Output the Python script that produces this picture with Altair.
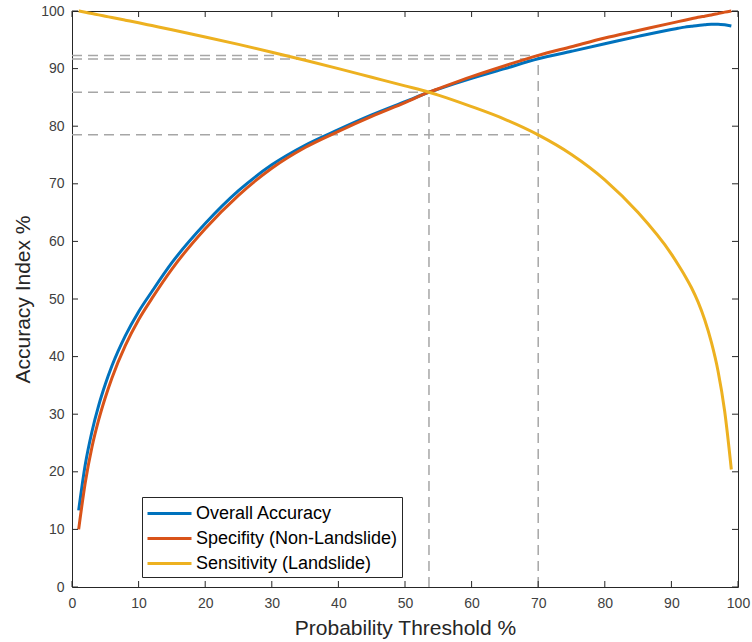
import altair as alt
import pandas as pd

# Probability threshold (%) at which each index was evaluated
threshold = [1, 2, 3, 4, 5, 6, 8, 10, 12, 15, 20, 25, 30, 35, 40, 45, 50, 53.6,
             55, 60, 65, 70, 75, 80, 85, 90, 91, 92, 93, 94, 95, 96, 97, 98, 99]

overall = [13.3, 21.3, 27.0, 31.5, 35.2, 38.4, 43.6, 47.8, 51.3, 56.3, 63.1, 68.8,
           73.3, 76.7, 79.4, 81.95, 84.25, 85.9, 86.45, 88.3, 90.0, 91.7, 93.0, 94.3,
           95.6, 96.8, 97.0, 97.2, 97.35, 97.5, 97.6, 97.7, 97.7, 97.6, 97.4]

specificity = [10.0, 18.2, 24.3, 29.0, 32.9, 36.3, 41.9, 46.4, 50.1, 55.2, 62.2, 68.0,
               72.7, 76.3, 79.1, 81.7, 84.1, 85.9, 86.5, 88.6, 90.5, 92.3, 93.8, 95.3,
               96.6, 97.9, 98.15, 98.4, 98.65, 98.9, 99.1, 99.3, 99.55, 99.8, 100.0]

sensitivity = [100.0, 99.78, 99.55, 99.33, 99.1, 98.87, 98.41, 97.95, 97.47, 96.75, 95.5,
               94.2, 92.85, 91.45, 90.0, 88.5, 87.0, 85.9, 85.4, 83.4, 81.2, 78.5, 75.1,
               70.7, 65.0, 57.8, 56.0, 54.1, 52.0, 49.5, 46.4, 42.5, 37.5, 30.5, 20.4]

series_names = ["Overall Accuracy", "Specifity (Non-Landslide)", "Sensitivity (Landslide)"]
series_colors = ["#0072BD", "#D95319", "#EDB120"]

# Reference guides: horizontal levels and the thresholds they run to
h_level = [85.9, 78.5, 91.67, 92.26]
h_end = [53.6, 70, 70, 70]
# Vertical guides at the chosen thresholds and the level they reach
v_pos = [53.6, 70]
v_top = [85.9, 92.26]

tick_values = list(range(0, 101, 10))

W, H = 666, 576
FONT = "Liberation Sans"

rows = []
for name, vals in zip(series_names, [overall, specificity, sensitivity]):
    for t, v in zip(threshold, vals):
        rows.append({"threshold": t, "value": v, "series": name})
curves = pd.DataFrame(rows)

hg = pd.DataFrame({"x0": [0] * len(h_level), "x1": h_end, "y": h_level})
vg = pd.DataFrame({"x": v_pos, "y0": [0] * len(v_pos), "y1": v_top})
ticks = pd.DataFrame({"v": tick_values})

xscale = alt.Scale(domain=[0, 100], nice=False)
yscale = alt.Scale(domain=[0, 100], nice=False)

x_axis = alt.Axis(values=tick_values, title="Probability Threshold %", grid=False,
                  ticks=False, domain=False, labelFlush=False,
                  labelPadding=9, titlePadding=7)
y_axis = alt.Axis(values=tick_values, title="Accuracy Index %", grid=False,
                  ticks=False, domain=False, labelFlush=False,
                  labelPadding=8, titlePadding=7)

dash = [10, 6]
guide_color = "#A6A6A6"

h_rules = alt.Chart(hg).mark_rule(color=guide_color, strokeWidth=1.5, strokeDash=dash).encode(
    x=alt.X("x0:Q", scale=xscale, axis=x_axis),
    x2="x1:Q",
    y=alt.Y("y:Q", scale=yscale, axis=y_axis),
)

v_rules = alt.Chart(vg).mark_rule(color=guide_color, strokeWidth=1.5, strokeDash=dash).encode(
    x=alt.X("x:Q", scale=xscale),
    y=alt.Y("y0:Q", scale=yscale),
    y2="y1:Q",
)

# Legend swatch: a horizontal stroke twice as long as the nominal symbol box
swatch_path = "M-1,0H3"

lines = alt.Chart(curves).mark_line(strokeWidth=3, interpolate="monotone").encode(
    x=alt.X("threshold:Q", scale=xscale),
    y=alt.Y("value:Q", scale=yscale),
    color=alt.Color("series:N",
                    scale=alt.Scale(domain=series_names, range=series_colors),
                    sort=series_names,
                    legend=alt.Legend(title=None, orient="none", legendX=70, legendY=486,
                                      fillColor="white", strokeColor="#262626",
                                      padding=4, symbolType=swatch_path, symbolSize=484,
                                      symbolStrokeWidth=3, symbolFillColor="transparent",
                                      labelFontSize=18, labelFont=FONT,
                                      labelColor="#000000", labelLimit=400,
                                      labelOffset=25, rowPadding=3)),
    order=alt.Order("threshold:Q"),
)

tick_len = 6
tick_color = "#262626"
bottom_ticks = alt.Chart(ticks).mark_rule(color=tick_color, strokeWidth=1).encode(
    x=alt.X("v:Q", scale=xscale), y=alt.value(H), y2=alt.value(H - tick_len))
top_ticks = alt.Chart(ticks).mark_rule(color=tick_color, strokeWidth=1).encode(
    x=alt.X("v:Q", scale=xscale), y=alt.value(0), y2=alt.value(tick_len))
left_ticks = alt.Chart(ticks).mark_rule(color=tick_color, strokeWidth=1).encode(
    y=alt.Y("v:Q", scale=yscale), x=alt.value(0), x2=alt.value(tick_len))
right_ticks = alt.Chart(ticks).mark_rule(color=tick_color, strokeWidth=1).encode(
    y=alt.Y("v:Q", scale=yscale), x=alt.value(W), x2=alt.value(W - tick_len))

chart = alt.layer(
    h_rules, v_rules, lines, bottom_ticks, top_ticks, left_ticks, right_ticks
).properties(
    width=W, height=H,
    autosize=alt.AutoSizeParams(type="none"),
    padding={"left": 72, "top": 11, "right": 14, "bottom": 55},
    background="white",
).configure_view(
    stroke="#262626", strokeWidth=1
).configure_axis(
    labelFont=FONT, labelFontSize=14, labelColor="#404040",
    titleFont=FONT, titleFontSize=21, titleColor="#262626", titleFontWeight="normal",
)

chart.save("out.html", embed_options={"renderer": "svg", "actions": False})
